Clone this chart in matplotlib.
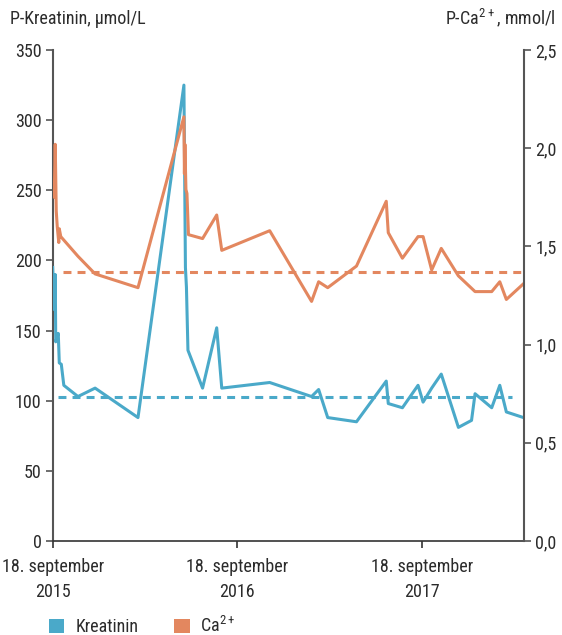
import matplotlib
matplotlib.use("Agg")
import matplotlib.pyplot as plt
from matplotlib import font_manager
from matplotlib.patches import Patch
import numpy as np

# Kreatinin (µmol/L)
kreat_datoer = ["2015-09-18", "2015-09-21", "2015-09-23", "2015-09-24", "2015-09-29",
                "2015-10-01", "2015-10-05", "2015-10-10", "2015-11-07", "2015-12-11",
                "2016-03-05", "2016-06-04", "2016-06-07", "2016-06-09", "2016-06-12",
                "2016-07-11", "2016-08-08", "2016-08-18", "2016-11-21", "2017-02-12",
                "2017-02-26", "2017-03-16", "2017-05-12", "2017-07-10", "2017-07-14",
                "2017-08-11", "2017-09-11", "2017-09-21", "2017-10-08", "2017-10-27",
                "2017-11-30", "2017-12-26", "2018-01-02", "2018-02-04", "2018-02-20",
                "2018-03-05", "2018-04-08"]
kreat_verdier = [195, 165, 190, 142, 148, 127, 126, 111, 103, 109,
                 88, 325, 195, 181, 136, 109, 152, 109, 113, 103,
                 108, 88, 85, 114, 98, 95, 111, 99, 109, 119,
                 81, 86, 105, 95, 111, 92, 88]

# Ca2+ (mmol/l)
ca_datoer = ["2015-09-18", "2015-09-21", "2015-09-23", "2015-09-25", "2015-09-27",
             "2015-09-30", "2015-10-01", "2015-10-04", "2015-11-07", "2015-12-11",
             "2016-03-05", "2016-06-04", "2016-06-05", "2016-06-06", "2016-06-08",
             "2016-06-10", "2016-06-13", "2016-07-11", "2016-08-08", "2016-08-18",
             "2016-11-21", "2017-02-12", "2017-02-26", "2017-03-16", "2017-05-12",
             "2017-07-10", "2017-07-14", "2017-08-11", "2017-09-11", "2017-09-21",
             "2017-10-08", "2017-10-27", "2017-11-30", "2018-01-02", "2018-02-04",
             "2018-02-20", "2018-03-05", "2018-04-08"]
ca_verdier = [1.79, 1.75, 2.02, 1.68, 1.60, 1.52, 1.59, 1.55, 1.45, 1.36,
              1.29, 2.16, 1.87, 2.02, 1.79, 1.77, 1.56, 1.54, 1.66, 1.48,
              1.58, 1.22, 1.32, 1.29, 1.40, 1.73, 1.57, 1.44, 1.55, 1.55,
              1.38, 1.49, 1.35, 1.27, 1.27, 1.32, 1.23, 1.31]

# referanselinjer (gjennomsnitt)
kreat_snitt = 102.4
kreat_snitt_datoer = ["2015-09-28", "2018-03-16"]
ca_snitt = 1.37
ca_snitt_datoer = ["2015-10-08", "2018-04-05"]

tick_datoer = ["2015-09-18", "2016-09-18", "2017-09-18"]
tick_tekst = ["18. september\n2015", "18. september\n2016", "18. september\n2017"]
x_grense = ["2015-09-18", "2018-04-09"]

blaa = "#4aa9c9"
oransje = "#e3875f"
tekstfarge = "#2b2b2b"
aksefarge = "#555555"


# velg en smal skrift hvis den finnes
def velg_skrift():
    for navn, str_ in [("Roboto Condensed", 13), ("Liberation Sans Narrow", 13),
                       ("Open Sans Condensed", 13), ("Roboto", 11.5)]:
        try:
            font_manager.findfont(font_manager.FontProperties(family=navn),
                                  fallback_to_default=False)
            return navn, str_
        except Exception:
            continue
    return "DejaVu Sans", 10.5


skrift, fs = velg_skrift()
plt.rcParams['font.family'] = [skrift, 'DejaVu Sans']
plt.rcParams['mathtext.fontset'] = 'custom'
plt.rcParams['mathtext.rm'] = skrift


def til_dato(liste):
    return np.array(liste, dtype="datetime64[D]").astype("datetime64[ms]").astype(object)


fig = plt.figure(figsize=(5.62, 6.35), dpi=100)
ax = fig.add_axes([0.0938, 0.148, 0.8386, 0.7732])
ax2 = ax.twinx()

ax.plot(til_dato(kreat_datoer), kreat_verdier, color=blaa, lw=2.2, zorder=3)
ax.plot(til_dato(kreat_snitt_datoer), [kreat_snitt] * 2, color=blaa, lw=2.2,
        dashes=(2.6, 2.0))
ax2.plot(til_dato(ca_datoer), ca_verdier, color=oransje, lw=2.2)
ax2.plot(til_dato(ca_snitt_datoer), [ca_snitt] * 2, color=oransje, lw=2.2,
         dashes=(2.6, 2.0))

ax.set_xlim(til_dato(x_grense))
ax.set_ylim(0, 350)
ax2.set_ylim(0, 2.5)

ax.set_yticks(range(0, 351, 50))
ax2.set_yticks([0, 0.5, 1.0, 1.5, 2.0, 2.5])
ax2.set_yticklabels(["0,0", "0,5", "1,0", "1,5", "2,0", "2,5"])
ax.set_xticks(til_dato(tick_datoer))
ax.set_xticklabels(tick_tekst, linespacing=1.55)

for a in (ax, ax2):
    a.spines["top"].set_visible(False)
    a.tick_params(direction="out", length=5, width=1.2, color=aksefarge,
                  labelsize=fs, labelcolor=tekstfarge)
ax.tick_params(axis="x", pad=7, color="#333333")
ax.tick_params(axis="y", pad=3)
ax2.tick_params(axis="y", pad=3)
ax.spines["left"].set_color(aksefarge)
ax.spines["left"].set_linewidth(1.5)
ax2.spines["right"].set_color(aksefarge)
ax2.spines["right"].set_linewidth(1.5)
ax.spines["bottom"].set_color("#333333")
ax.spines["bottom"].set_linewidth(1.2)
ax.spines["right"].set_visible(False)
ax2.spines["left"].set_visible(False)
ax2.spines["bottom"].set_visible(False)

fig.text(10 / 562, 1 - 24 / 635, "P-Kreatinin, μmol/L", fontsize=fs,
         color=tekstfarge, ha="left", va="baseline")
fig.text(556 / 562, 1 - 24 / 635, r"P-Ca$^{2+}$, mmol/l", fontsize=fs,
         color=tekstfarge, ha="right", va="baseline")

handles = [Patch(facecolor=blaa, label="Kreatinin"),
           Patch(facecolor=oransje, label=r"Ca$^{2+}$")]
fig.legend(handles=handles, loc="center left", bbox_to_anchor=(49 / 562, 1 - 626 / 635),
           ncol=2, frameon=False, fontsize=fs, handlelength=0.85, handleheight=0.85,
           handletextpad=0.6, columnspacing=2.0, borderpad=0, borderaxespad=0,
           labelcolor=tekstfarge)

fig.savefig("out.png", dpi=100)
